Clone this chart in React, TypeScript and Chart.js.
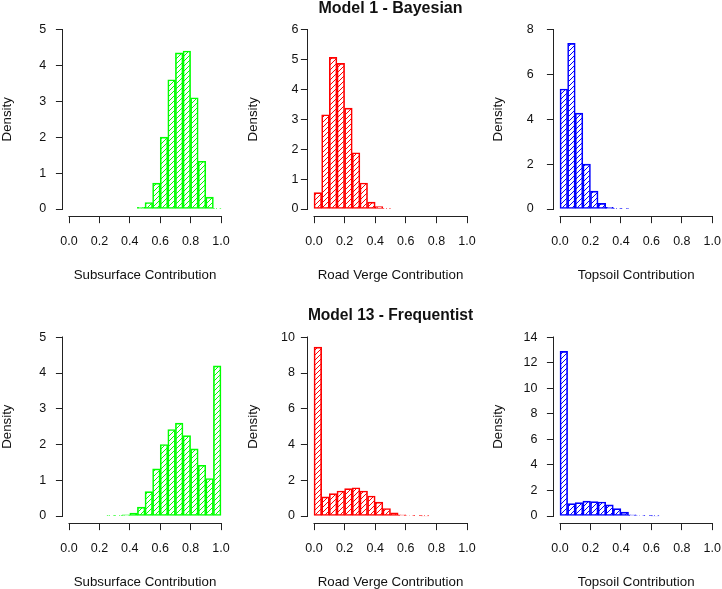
import React, { useEffect, useRef } from "react";
import { Chart, registerables } from "chart.js";

Chart.register(...registerables);

// ---------------- data ----------------
const BIN_WIDTH = 0.05;
const xTicks = [0, 0.2, 0.4, 0.6, 0.8, 1.0];

const subBayesBins = [0.45, 0.5, 0.55, 0.6, 0.65, 0.7, 0.75, 0.8, 0.85, 0.9, 0.95];
const subBayesDensity = [0.05, 0.18, 0.72, 2.0, 3.6, 4.35, 4.4, 3.1, 1.33, 0.33, 0.02];
const subBayesYTicks = [0, 1, 2, 3, 4, 5];

const roadBayesBins = [0, 0.05, 0.1, 0.15, 0.2, 0.25, 0.3, 0.35, 0.4, 0.45];
const roadBayesDensity = [0.55, 3.15, 5.07, 4.87, 3.37, 1.88, 0.87, 0.23, 0.08, 0.02];
const roadBayesYTicks = [0, 1, 2, 3, 4, 5, 6];

const topBayesBins = [0, 0.05, 0.1, 0.15, 0.2, 0.25, 0.3, 0.35, 0.4];
const topBayesDensity = [5.35, 7.38, 4.27, 2.0, 0.8, 0.25, 0.08, 0.03, 0.01];
const topBayesYTicks = [0, 2, 4, 6, 8];

const subFreqBins = [0.25, 0.3, 0.35, 0.4, 0.45, 0.5, 0.55, 0.6, 0.65, 0.7, 0.75, 0.8, 0.85, 0.9, 0.95];
const subFreqDensity = [0.01, 0.01, 0.03, 0.08, 0.25, 0.68, 1.32, 2.0, 2.42, 2.6, 2.25, 1.88, 1.42, 1.05, 4.2];
const subFreqYTicks = [0, 1, 2, 3, 4, 5];

const roadFreqBins = [0, 0.05, 0.1, 0.15, 0.2, 0.25, 0.3, 0.35, 0.4, 0.45, 0.5, 0.55, 0.6, 0.65, 0.7];
const roadFreqDensity = [9.45, 1.07, 1.25, 1.4, 1.53, 1.58, 1.4, 1.12, 0.78, 0.42, 0.18, 0.07, 0.03, 0.02, 0.01];
const roadFreqYTicks = [0, 2, 4, 6, 8, 10];

const topFreqBins = [0, 0.05, 0.1, 0.15, 0.2, 0.25, 0.3, 0.35, 0.4, 0.45, 0.5, 0.55, 0.6];
const topFreqDensity = [12.9, 0.97, 1.05, 1.17, 1.13, 1.1, 0.87, 0.58, 0.3, 0.1, 0.04, 0.02, 0.01];
const topFreqYTicks = [0, 2, 4, 6, 8, 10, 12, 14];

const titleBayes = "Model 1 - Bayesian";
const titleFreq = "Model 13 - Frequentist";
const labelSub = "Subsurface Contribution";
const labelRoad = "Road Verge Contribution";
const labelTop = "Topsoil Contribution";
const labelY = "Density";

// ---------------- styling / layout ----------------
const FONT = "'Liberation Sans', Arial, Helvetica, sans-serif";
const TXT = "#111111";
const AXIS = "#222222";
const GREEN = "#00ff00";
const RED = "#ff0000";
const BLUE = "#0000ff";
const CW = 232;
const TICK_FONT = 12.5;
const LABEL_FONT = 13.3;
const TITLE_FONT = 16;
const TICK_LEN = 7;

const COLS = [
  { cL: 0, x0: 69, x1: 221, yTitleX: 7 },
  { cL: 245, x0: 314, x1: 467, yTitleX: 253 },
  { cL: 490, x0: 560, x1: 712.3, yTitleX: 498 },
];
const ROWS = [
  { cT: 0, cH: 294, yTop: 29.5, y0: 209, xTitleMid: 275, titleMid: 8.5, xTickMid: 241.7 },
  { cT: 295, cH: 294, yTop: 337.3, y0: 516, xTitleMid: 582, titleMid: 315.5, xTickMid: 549 },
];

type PanelSpec = {
  bins: number[];
  dens: number[];
  yTicks: number[];
  color: string;
  xLabel: string;
  title?: string;
  col: number;
  row: number;
  yLabelRight: number;
};

const PANELS: PanelSpec[] = [
  { bins: subBayesBins, dens: subBayesDensity, yTicks: subBayesYTicks, color: GREEN, xLabel: labelSub, col: 0, row: 0, yLabelRight: 46.2 },
  { bins: roadBayesBins, dens: roadBayesDensity, yTicks: roadBayesYTicks, color: RED, xLabel: labelRoad, title: titleBayes, col: 1, row: 0, yLabelRight: 298.5 },
  { bins: topBayesBins, dens: topBayesDensity, yTicks: topBayesYTicks, color: BLUE, xLabel: labelTop, col: 2, row: 0, yLabelRight: 533.8 },
  { bins: subFreqBins, dens: subFreqDensity, yTicks: subFreqYTicks, color: GREEN, xLabel: labelSub, col: 0, row: 1, yLabelRight: 46.2 },
  { bins: roadFreqBins, dens: roadFreqDensity, yTicks: roadFreqYTicks, color: RED, xLabel: labelRoad, title: titleFreq, col: 1, row: 1, yLabelRight: 295 },
  { bins: topFreqBins, dens: topFreqDensity, yTicks: topFreqYTicks, color: BLUE, xLabel: labelTop, col: 2, row: 1, yLabelRight: 537.5 },
];

function makeHatch(color: string): CanvasPattern | string {
  const s = 5;
  const c = document.createElement("canvas");
  c.width = s;
  c.height = s;
  const g = c.getContext("2d");
  if (!g) return color;
  g.strokeStyle = color;
  g.lineWidth = 1.0;
  g.beginPath();
  g.moveTo(-1, s + 1);
  g.lineTo(s + 1, -1);
  g.moveTo(-1, 1);
  g.lineTo(1, -1);
  g.moveTo(s - 1, s + 1);
  g.lineTo(s + 1, s - 1);
  g.stroke();
  return g.createPattern(c, "repeat") || color;
}

function Panel({ spec }: { spec: PanelSpec }) {
  const ref = useRef<HTMLCanvasElement>(null);
  const col = COLS[spec.col];
  const row = ROWS[spec.row];

  useEffect(() => {
    const canvas = ref.current;
    if (!canvas) return;
    const xSpan = col.x1 - col.x0;
    const ySpan = row.y0 - row.yTop;
    const plotL = col.x0 - 0.04 * xSpan;
    const plotR = col.x1 + 0.04 * xSpan;
    const plotT = row.yTop - 0.04 * ySpan;
    const plotB = row.y0 + 0.04 * ySpan;
    const yMax = spec.yTicks[spec.yTicks.length - 1];

    const yScaleW = plotL - col.cL;
    const padRight = col.cL + CW - plotR;
    const xScaleH = row.cT + row.cH - plotB;
    const hasTitle = !!spec.title;
    const titlePadTop = row.titleMid - row.cT - TITLE_FONT / 2;
    const titlePadBottom = plotT - row.cT - TITLE_FONT - titlePadTop;
    const padTop = hasTitle ? 0 : plotT - row.cT;
    const xTickPad = row.xTickMid - plotB - TICK_LEN - (TICK_FONT * 1.2) / 2;
    const xTitlePadBottom = row.cT + row.cH - row.xTitleMid - (LABEL_FONT * 1.2) / 2;
    const yTitlePadTop = col.yTitleX - col.cL - (LABEL_FONT * 1.2) / 2;
    const yTickPad = plotL - spec.yLabelRight - TICK_LEN;

    const axisLines = {
      id: "rAxisLines",
      afterDraw(chart: any) {
        const { ctx, chartArea, scales } = chart;
        const xs = scales.x;
        const ys = scales.y;
        ctx.save();
        ctx.strokeStyle = AXIS;
        ctx.lineWidth = 1;
        ctx.beginPath();
        const xb = Math.round(chartArea.bottom) + 0.5;
        ctx.moveTo(Math.round(xs.getPixelForValue(xTicks[0])) - 0.5, xb);
        ctx.lineTo(Math.round(xs.getPixelForValue(xTicks[xTicks.length - 1])) + 0.5, xb);
        const yl = Math.round(chartArea.left) - 0.5;
        ctx.moveTo(yl, Math.round(ys.getPixelForValue(spec.yTicks[0])) + 0.5);
        ctx.lineTo(yl, Math.round(ys.getPixelForValue(yMax)) - 0.5);
        ctx.stroke();
        ctx.restore();
      },
    };

    const chart = new Chart(canvas, {
      type: "bar",
      data: {
        datasets: [
          {
            data: spec.bins.map((b, i) => ({ x: b + BIN_WIDTH / 2, y: spec.dens[i] })),
            backgroundColor: makeHatch(spec.color) as any,
            borderColor: spec.color,
            borderWidth: 1,
            borderSkipped: false,
            barPercentage: 1,
            categoryPercentage: 1,
          },
        ],
      },
      options: {
        responsive: false,
        animation: false,
        events: [],
        layout: { padding: { left: 0, top: padTop, right: padRight, bottom: 0 } },
        plugins: {
          legend: { display: false },
          tooltip: { enabled: false },
          title: {
            display: hasTitle,
            text: spec.title || "",
            fullSize: false,
            color: TXT,
            font: { family: FONT, size: TITLE_FONT, weight: "bold", lineHeight: 1 },
            padding: { top: titlePadTop, bottom: titlePadBottom },
          },
        },
        scales: {
          x: {
            type: "linear",
            min: -0.04,
            max: 1.04,
            offset: false,
            grid: {
              display: true,
              offset: false,
              drawOnChartArea: false,
              drawTicks: true,
              tickLength: TICK_LEN,
              color: AXIS,
              lineWidth: 1,
            },
            border: { display: false },
            ticks: {
              autoSkip: false,
              maxRotation: 0,
              minRotation: 0,
              padding: xTickPad,
              color: TXT,
              font: { family: FONT, size: TICK_FONT },
              callback: (v: any) => Number(v).toFixed(1),
            },
            title: {
              display: true,
              text: spec.xLabel,
              color: TXT,
              font: { family: FONT, size: LABEL_FONT },
              padding: { top: 0, bottom: xTitlePadBottom },
            },
            afterBuildTicks: (s: any) => {
              s.ticks = xTicks.map((v) => ({ value: v }));
            },
            afterFit: (s: any) => {
              s.height = xScaleH;
              s.paddingLeft = 0;
              s.paddingRight = 0;
            },
          } as any,
          y: {
            type: "linear",
            min: -0.04 * yMax,
            max: 1.04 * yMax,
            grid: {
              display: true,
              drawOnChartArea: false,
              drawTicks: true,
              tickLength: TICK_LEN,
              color: AXIS,
              lineWidth: 1,
            },
            border: { display: false },
            ticks: {
              autoSkip: false,
              padding: yTickPad,
              color: TXT,
              font: { family: FONT, size: TICK_FONT },
              callback: (v: any) => String(Math.round(Number(v))),
            },
            title: {
              display: true,
              text: labelY,
              color: TXT,
              font: { family: FONT, size: LABEL_FONT },
              padding: { top: yTitlePadTop, bottom: 0 },
            },
            afterBuildTicks: (s: any) => {
              s.ticks = spec.yTicks.map((v) => ({ value: v }));
            },
            afterFit: (s: any) => {
              s.width = yScaleW;
              s.paddingTop = 0;
              s.paddingBottom = 0;
            },
          } as any,
        },
      },
      plugins: [axisLines],
    });
    return () => chart.destroy();
  }, [spec]);

  return (
    <canvas
      ref={ref}
      width={CW}
      height={row.cH}
      style={{ position: "absolute", left: col.cL, top: row.cT, width: CW, height: row.cH }}
    />
  );
}

export default function App() {
  return (
    <div
      style={{
        position: "absolute",
        left: 0,
        top: 0,
        width: 722,
        height: 589,
        background: "#ffffff",
        overflow: "hidden",
      }}
    >
      {PANELS.map((p, i) => (
        <Panel key={i} spec={p} />
      ))}
    </div>
  );
}
